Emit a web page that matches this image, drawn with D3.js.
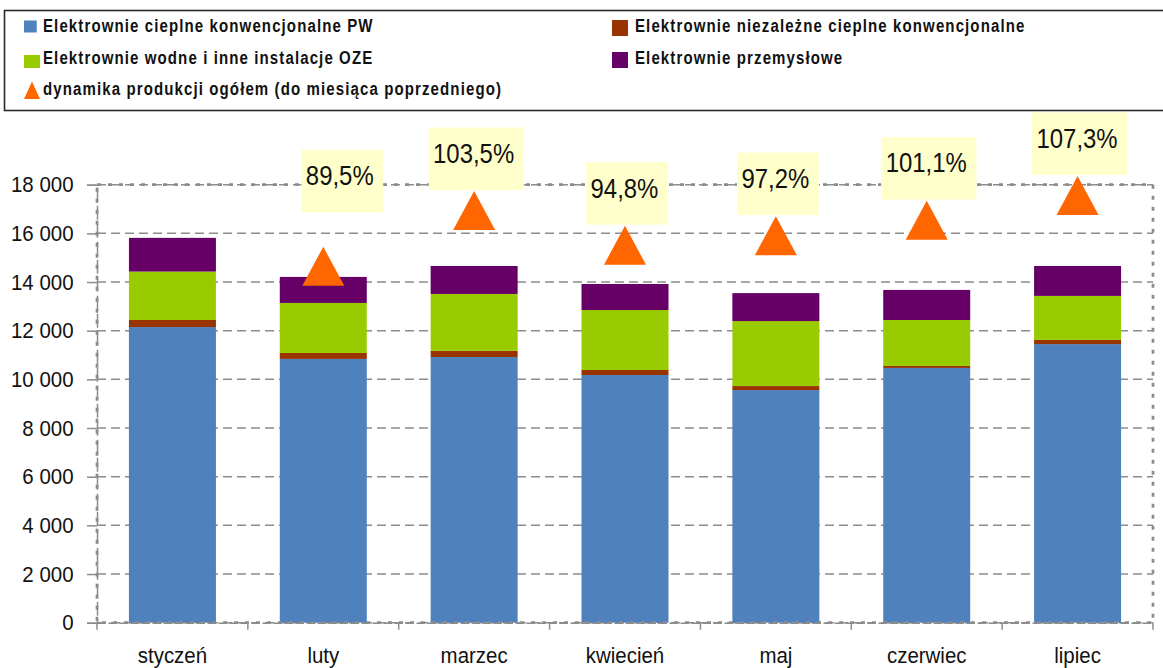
<!DOCTYPE html>
<html>
<head>
<meta charset="utf-8">
<script src="https://cdn.jsdelivr.net/npm/d3@7"></script>
<style>
  html, body { margin: 0; padding: 0; background: #fff; }
  svg { display: block; }
</style>
</head>
<body>
<svg id="chart" width="1163" height="668"></svg>
<script>
// ---------- DATA ----------
const categories = ["styczeń", "luty", "marzec", "kwiecień", "maj", "czerwiec", "lipiec"];
const seriesNames = [
  "Elektrownie cieplne konwencjonalne PW",
  "Elektrownie niezależne cieplne konwencjonalne",
  "Elektrownie wodne i inne instalacje OZE",
  "Elektrownie przemysłowe"
];
const cieplnePW    = [12150, 10840, 10920, 10180, 9560, 10470, 11450];
const niezalezne   = [290, 245, 250, 205, 165, 80, 170];
const wodneOZE     = [1990, 2055, 2340, 2465, 2670, 1890, 1810];
const przemyslowe  = [1385, 1070, 1150, 1070, 1150, 1235, 1230];
const dynamikaName = "dynamika produkcji ogółem (do miesiąca poprzedniego)";
const dynamika     = [null, 89.5, 103.5, 94.8, 97.2, 101.1, 107.3];
const yTicks       = [0, 2000, 4000, 6000, 8000, 10000, 12000, 14000, 16000, 18000];

// ---------- STYLE / LAYOUT ----------
const colors = ["#4F81BD", "#993300", "#99CC00", "#660066"];
const triColor = "#FF6600";
const FONT = "'Liberation Sans', Arial, sans-serif";
const plot = { left: 97, right: 1153, top: 184.7, bottom: 622.7 };
const gridColor = "#8c8c8c";
// manual offset of one data label (moved in the original)
const labelShift = { "luty": [17, -33.5] };

// horizontally condense a text around its anchor x
function condense(sel, s) {
  sel.each(function () {
    const t = d3.select(this);
    const x0 = +(t.attr("x") || 0);
    t.attr("transform", `translate(${x0},0) scale(${s},1) translate(${-x0},0)`);
  });
}

const svg = d3.select("#chart");
const loc = d3.formatLocale({ decimal: ",", thousands: "\u00a0", grouping: [3], currency: ["", ""] });
const fmtY = loc.format(",d");
const fmtP = v => loc.format(".1f")(v) + "%";

const x = d3.scaleBand().domain(categories).range([plot.left, plot.right]).paddingInner(0.4233).paddingOuter(0.4233 / 2);
const y = d3.scaleLinear().domain([0, 18000]).range([plot.bottom, plot.top]);
const y2 = d3.scaleLinear().domain([0, 110]).range([plot.bottom, plot.top]);

// gridlines
svg.append("g").selectAll("line").data(yTicks).join("line")
  .attr("x1", plot.left).attr("x2", plot.right)
  .attr("y1", d => y(d)).attr("y2", d => y(d))
  .attr("stroke", gridColor).attr("stroke-width", 1.5).attr("stroke-dasharray", "9,5");

// stacked bars
const rows = categories.map((c, i) => ({ cat: c, s0: cieplnePW[i], s1: niezalezne[i], s2: wodneOZE[i], s3: przemyslowe[i] }));
const stack = d3.stack().keys(["s0", "s1", "s2", "s3"])(rows);
svg.append("g").selectAll("g").data(stack).join("g")
  .attr("fill", (d, i) => colors[i])
  .selectAll("rect").data(d => d).join("rect")
  .attr("x", d => x(d.data.cat))
  .attr("width", x.bandwidth())
  .attr("y", d => y(d[1]))
  .attr("height", d => y(d[0]) - y(d[1]));

// plot area border (dotted)
svg.append("rect")
  .attr("x", plot.left).attr("y", plot.top)
  .attr("width", plot.right - plot.left).attr("height", plot.bottom - plot.top)
  .attr("fill", "none").attr("stroke", gridColor).attr("stroke-width", 2.7).attr("stroke-dasharray", "4,7");

// y axis
const yAxis = svg.append("g").attr("transform", `translate(${plot.left},0)`)
  .call(d3.axisLeft(y).tickValues(yTicks).tickFormat(fmtY).tickSize(10).tickPadding(13.5));
yAxis.select(".domain").attr("stroke", gridColor).attr("stroke-width", 1.5).attr("stroke-dasharray", "14,4");
yAxis.selectAll(".tick line").attr("stroke", gridColor).attr("stroke-width", 1.5);
yAxis.selectAll(".tick text").attr("font-family", FONT).attr("font-size", 22).attr("fill", "#111").call(condense, 0.93);

// x axis
const xAxis = svg.append("g").attr("transform", `translate(0,${plot.bottom})`)
  .call(d3.axisBottom(x).tickSize(0).tickPadding(25));
xAxis.select(".domain").attr("stroke", gridColor).attr("stroke-width", 1.5).attr("stroke-dasharray", "8,3");
xAxis.selectAll(".tick text").attr("font-family", FONT).attr("font-size", 22).attr("fill", "#111").call(condense, 0.93);
// category boundary ticks
const bounds = categories.map(c => x(c) - x.step() * x.paddingInner() / 2).concat([plot.right]);
svg.append("g").selectAll("line").data(bounds).join("line")
  .attr("x1", d => d).attr("x2", d => d)
  .attr("y1", plot.bottom).attr("y2", plot.bottom + 7)
  .attr("stroke", gridColor).attr("stroke-width", 1.5);

// triangles
const triW = 42, triH = 39;
const triPath = (w, h) => `M0,${-h / 2}L${w / 2},${h / 2}L${-w / 2},${h / 2}Z`;
const dyn = categories.map((c, i) => ({ cat: c, v: dynamika[i] })).filter(d => d.v != null);
svg.append("g").selectAll("path").data(dyn).join("path")
  .attr("transform", d => `translate(${x(d.cat) + x.bandwidth() / 2},${y2(d.v)})`)
  .attr("d", triPath(triW, triH))
  .attr("fill", triColor);

// data labels
const labScale = 0.87;
const lab = svg.append("g").selectAll("g").data(dyn).join("g");
lab.each(function (d) {
  const g = d3.select(this);
  const sh = labelShift[d.cat] || [0, 0];
  const cx = x(d.cat) + x.bandwidth() / 2 + 2 + sh[0];
  const boxH = 62.5;
  const boxTop = y2(d.v) - triH / 2 - 1 - boxH + sh[1];
  const rect = g.append("rect").attr("fill", "#FFFFCC");
  const t = g.append("text").text(fmtP(d.v))
    .attr("font-family", FONT).attr("font-size", 27.5).attr("fill", "#111")
    .attr("y", boxTop + 35.3);
  const tw = t.node().getComputedTextLength() * labScale;
  const w = tw + 14;
  rect.attr("x", cx - w / 2).attr("y", boxTop).attr("width", w).attr("height", boxH);
  t.attr("x", cx - w / 2 + 4.5).call(condense, labScale);
});

// legend
const leg = svg.append("g");
leg.append("rect").attr("x", 4.5).attr("y", 10.5).attr("width", 1200).attr("height", 100)
  .attr("fill", "#fff").attr("stroke", "#2a2a2a").attr("stroke-width", 1.6);
const legItems = [
  { name: seriesNames[0], type: "sq", color: colors[0], mx: 24, my: 20.5, mw: 12.7, mh: 12, tx: 43, ty: 32 },
  { name: seriesNames[1], type: "sq", color: colors[1], mx: 612, my: 20, mw: 16, mh: 16, tx: 635, ty: 32 },
  { name: seriesNames[2], type: "sq", color: colors[2], mx: 24, my: 55, mw: 16, mh: 13, tx: 43, ty: 64 },
  { name: seriesNames[3], type: "sq", color: colors[3], mx: 612, my: 52, mw: 16, mh: 16, tx: 635, ty: 64 },
  { name: dynamikaName, type: "tri", color: triColor, mx: 24, my: 81.5, mw: 16, mh: 17.5, tx: 43, ty: 95 }
];
legItems.forEach(it => {
  if (it.type === "sq") {
    leg.append("rect").attr("x", it.mx).attr("y", it.my).attr("width", it.mw).attr("height", it.mh).attr("fill", it.color);
  } else {
    leg.append("path").attr("transform", `translate(${it.mx + it.mw / 2},${it.my + it.mh / 2})`)
      .attr("d", triPath(it.mw, it.mh)).attr("fill", it.color);
  }
  leg.append("text").attr("x", it.tx).attr("y", it.ty).text(it.name)
    .attr("font-family", FONT).attr("font-weight", "bold").attr("font-size", 17.7)
    .attr("letter-spacing", 1.3).attr("fill", "#111")
    .call(condense, 0.85);
});
</script>
</body>
</html>
